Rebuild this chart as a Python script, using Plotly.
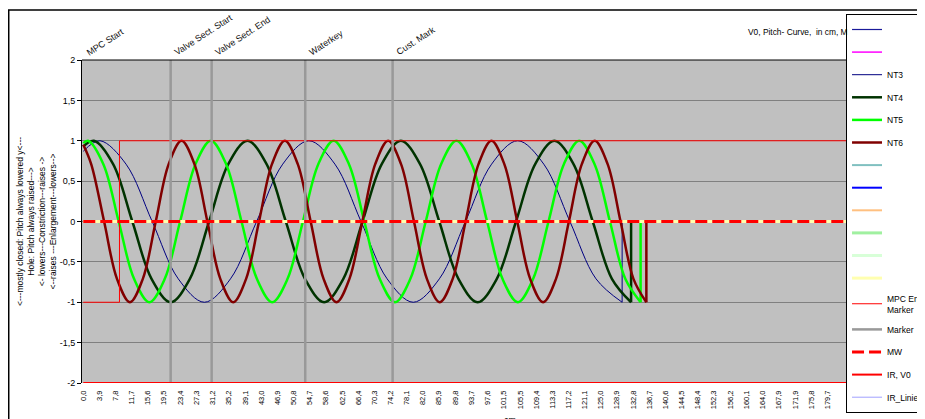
import plotly.graph_objects as go

# ---------------- data ----------------
x_tick_vals = [0.0, 3.9, 7.8, 11.7, 15.6, 19.5, 23.4, 27.3, 31.2, 35.2, 39.1, 43.0, 46.9, 50.8,
               54.7, 58.6, 62.5, 66.4, 70.3, 74.2, 78.1, 82.0, 85.9, 89.8, 93.7, 97.6, 101.5,
               105.5, 109.4, 113.3, 117.2, 121.1, 125.0, 128.9, 132.8, 136.7, 140.6, 144.5,
               148.4, 152.3, 156.2, 160.1, 164.0, 167.9, 171.9, 175.8, 179.7]
x_tick_labels = [f"{v:.1f}".replace(".", ",") for v in x_tick_vals]
y_tick_vals = [-2, -1.5, -1, -0.5, 0, 0.5, 1, 1.5, 2]
y_tick_labels = ["-2", "-1,5", "-1", "-0,5", "0", "0,5", "1", "1,5", "2"]

nt3_x = [0.0, 4.03, 10.33, 16.64, 22.94, 29.25, 35.55, 41.86, 48.16, 54.47, 60.77, 67.08, 73.38,
         79.69, 85.99, 92.30, 98.60, 104.91, 111.21, 117.52, 123.82, 130.13]
nt3_y = [0.87, 1.0, 0.71, 0.0, -0.71, -1.0, -0.71, 0.0, 0.71, 1.0, 0.71, 0.0, -0.71,
         -1.0, -0.71, 0.0, 0.71, 1.0, 0.71, 0.0, -0.71, -1.0]
nt3_tail_x = [130.13, 130.13, 200.0]
nt3_tail_y = [-1.0, 0.0, 0.0]

nt4_x = [0.0, 2.58, 7.21, 11.85, 16.48, 21.11, 25.74, 30.38, 35.01, 39.64, 44.27, 48.91, 53.54,
         58.17, 62.80, 67.44, 72.07, 76.70, 81.33, 85.97, 90.60, 95.23, 99.86, 104.50, 109.13,
         113.76, 118.39, 123.03, 127.66, 132.29]
nt4_y = [0.93, 1.0, 0.71, 0.0, -0.71, -1.0, -0.71, 0.0, 0.71, 1.0, 0.71, 0.0, -0.71,
         -1.0, -0.71, 0.0, 0.71, 1.0, 0.71, 0.0, -0.71, -1.0, -0.71, 0.0, 0.71,
         1.0, 0.71, 0.0, -0.71, -1.0]
nt4_tail_x = [132.29, 132.29, 200.0]
nt4_tail_y = [-1.0, 0.0, 0.0]

nt5_x = [0.0, 1.14, 4.85, 8.55, 12.26, 15.97, 19.68, 23.38, 27.09, 30.80, 34.50, 38.21, 41.92,
         45.62, 49.33, 53.04, 56.75, 60.45, 64.16, 67.87, 71.57, 75.28, 78.99, 82.70, 86.40,
         90.11, 93.82, 97.52, 101.23, 104.94, 108.64, 112.35, 116.06, 119.77, 123.47, 127.18,
         130.89, 134.59]
nt5_y = [0.97, 1.0, 0.71, 0.0, -0.71, -1.0, -0.71, 0.0, 0.71, 1.0, 0.71, 0.0, -0.71,
         -1.0, -0.71, 0.0, 0.71, 1.0, 0.71, 0.0, -0.71, -1.0, -0.71, 0.0, 0.71,
         1.0, 0.71, 0.0, -0.71, -1.0, -0.71, 0.0, 0.71, 1.0, 0.71, 0.0,
         -0.71, -1.0]
nt5_tail_x = [134.59, 134.59, 200.0]
nt5_tail_y = [-1.0, 0.0, 0.0]

nt6_x = [0.0, 1.91, 5.03, 8.14, 11.26, 14.38, 17.50, 20.62, 23.73, 26.85, 29.97, 33.09, 36.21,
         39.32, 42.44, 45.56, 48.68, 51.80, 54.91, 58.03, 61.15, 64.27, 67.39, 70.50, 73.62,
         76.74, 79.86, 82.98, 86.09, 89.21, 92.33, 95.45, 98.57, 101.68, 104.80, 107.92,
         111.04, 114.16, 117.27, 120.39, 123.51, 126.63, 129.75, 132.86, 135.98]
nt6_y = [0.95, 0.71, 0.0, -0.71, -1.0, -0.71, 0.0, 0.71, 1.0, 0.71, 0.0, -0.71, -1.0,
         -0.71, 0.0, 0.71, 1.0, 0.71, 0.0, -0.71, -1.0, -0.71, 0.0, 0.71, 1.0,
         0.71, 0.0, -0.71, -1.0, -0.71, 0.0, 0.71, 1.0, 0.71, 0.0, -0.71,
         -1.0, -0.71, 0.0, 0.71, 1.0, 0.71, 0.0, -0.71, -1.0]
nt6_tail_x = [135.98, 135.98, 200.0]
nt6_tail_y = [-1.0, 0.0, 0.0]

zero_x = [0.0, 205.0]
zero_y = [0.0, 0.0]
mpc_end_x = [0.0, 8.74, 8.74, 205.0]
mpc_end_y = [-1.0, -1.0, 1.0, 1.0]
ir_v0_x = [0.0, 205.0]
ir_v0_y = [-2.0, -2.0]

marker_pos = [0.0, 21.1, 31.0, 53.6, 74.7]
marker_labels = ["MPC Start", "Valve Sect. Start", "Valve Sect. End", "Waterkey", "Cust. Mark"]

y_title_lines = ["&lt;---mostly closed: Pitch always lowered y&lt;---",
                 "Hole: Pitch always raised---&gt;",
                 "&lt;- lowers---Constriction---raises -&gt;",
                 "&lt;--raises ---Enlargement---lowers--&gt;"]

# ---------------- figure ----------------
fig = go.Figure()
gcount = [0]


def add(name, x, y, color, width, dash=None, shape="linear", tail=None):
    g = "g%d" % gcount[0]
    gcount[0] += 1
    fig.add_trace(go.Scatter(x=x, y=y, mode="lines", name=name, legendgroup=g,
                             line=dict(color=color, width=width, dash=dash, shape=shape),
                             hoverinfo="skip"))
    if tail is not None:
        fig.add_trace(go.Scatter(x=tail[0], y=tail[1], mode="lines", name=name, legendgroup=g,
                                 showlegend=False, line=dict(color=color, width=width),
                                 hoverinfo="skip"))


add(" ", [0.0], [None], "#1A1A9A", 1.2)
add(" ", [0.0], [None], "#FF00FF", 1.5)
add("NT3", nt3_x, nt3_y, "#000080", 1, shape="spline", tail=(nt3_tail_x, nt3_tail_y))
add("NT4", nt4_x, nt4_y, "#003300", 2.5, shape="spline", tail=(nt4_tail_x, nt4_tail_y))
add("NT5", nt5_x, nt5_y, "#00FF00", 2.5, shape="spline", tail=(nt5_tail_x, nt5_tail_y))
add("NT6", nt6_x, nt6_y, "#800000", 2.5, shape="spline", tail=(nt6_tail_x, nt6_tail_y))
add(" ", [0.0], [None], "#80C0C0", 2)
add(" ", [0.0], [None], "#0000FF", 2)
add(" ", [0.0], [None], "#FFC080", 2)
add(" ", zero_x, zero_y, "#A0F0A0", 3)
add(" ", zero_x, zero_y, "#D8FFD8", 3)
add(" ", zero_x, zero_y, "#FFFFB0", 3)
add("MPC End<br>Marker", mpc_end_x, mpc_end_y, "#FF0000", 1)

mk_x, mk_y = [], []
for p in marker_pos:
    if p > 0:
        mk_x += [p, p, None]
        mk_y += [-2, 2, None]
add("Marker", mk_x, mk_y, "#999999", 2.5)
add("MW", zero_x, zero_y, "#FF0000", 3, dash="12px,5px")
add("IR, V0", ir_v0_x, ir_v0_y, "#FF0000", 2)
add("IR_Linie", [0.0], [None], "#A0A0FF", 1)

annotations = []
for p, lab in zip(marker_pos, marker_labels):
    annotations.append(dict(x=p, y=1, xref="x", yref="paper", text=lab, showarrow=False,
                            textangle=-33, xanchor="left", yanchor="bottom", xshift=-1, yshift=0,
                            font=dict(size=9, color="#111111")))
annotations.append(dict(x=0.780, y=1.0867, xref="paper", yref="paper",
                        text="V0, Pitch- Curve,  in cm, M", showarrow=False,
                        xanchor="left", yanchor="middle", font=dict(size=8.4)))
annotations.append(dict(x=-0.0534, y=0.5, xref="paper", yref="paper",
                        text="<br>".join(y_title_lines), showarrow=False, textangle=-90,
                        xanchor="center", yanchor="middle", font=dict(size=8.5)))
annotations.append(dict(x=0.503, y=-0.0929, xref="paper", yref="paper", text="cm",
                        showarrow=False, xanchor="center", yanchor="top", font=dict(size=9)))

fig.update_layout(
    width=925, height=419,
    margin=dict(l=74, r=0, t=52, b=44, autoexpand=False),
    paper_bgcolor="white", plot_bgcolor="#C0C0C0",
    font=dict(family="Liberation Sans, Arial, sans-serif", size=9, color="black"),
    xaxis=dict(range=[-0.31, 205.2], tickmode="array", tickvals=x_tick_vals,
               ticktext=x_tick_labels, tickangle=-90, tickfont=dict(size=7.5),
               showgrid=False, zeroline=False, showline=False, ticks="",
               ticklabelstandoff=5),
    yaxis=dict(range=[-2, 2], tickmode="array", tickvals=y_tick_vals, ticktext=y_tick_labels,
               showgrid=True, gridcolor="#808080", gridwidth=1, zeroline=False,
               showline=True, linecolor="black", linewidth=1, mirror=True,
               ticks="outside", ticklen=4, tickcolor="black", tickfont=dict(size=9)),
    legend=dict(x=0.8978, xanchor="left", xref="paper", y=1 - 6 / 419, yanchor="top",
                yref="container", maxheight=415, bgcolor="white",
                bordercolor="black", borderwidth=1, font=dict(size=8.5),
                traceorder="grouped", tracegroupgap=3.6,
                entrywidth=48, entrywidthmode="pixels"),
    showlegend=True,
    annotations=annotations,
    shapes=[
        dict(type="line", xref="paper", yref="paper", x0=0, x1=1, y0=1, y1=1,
             line=dict(color="black", width=1)),
        dict(type="rect", xref="paper", yref="paper", x0=-0.0861, x1=1.2, y0=-0.5, y1=1.1548,
             line=dict(color="black", width=1.5)),
    ],
)

fig.write_html("out.html")
